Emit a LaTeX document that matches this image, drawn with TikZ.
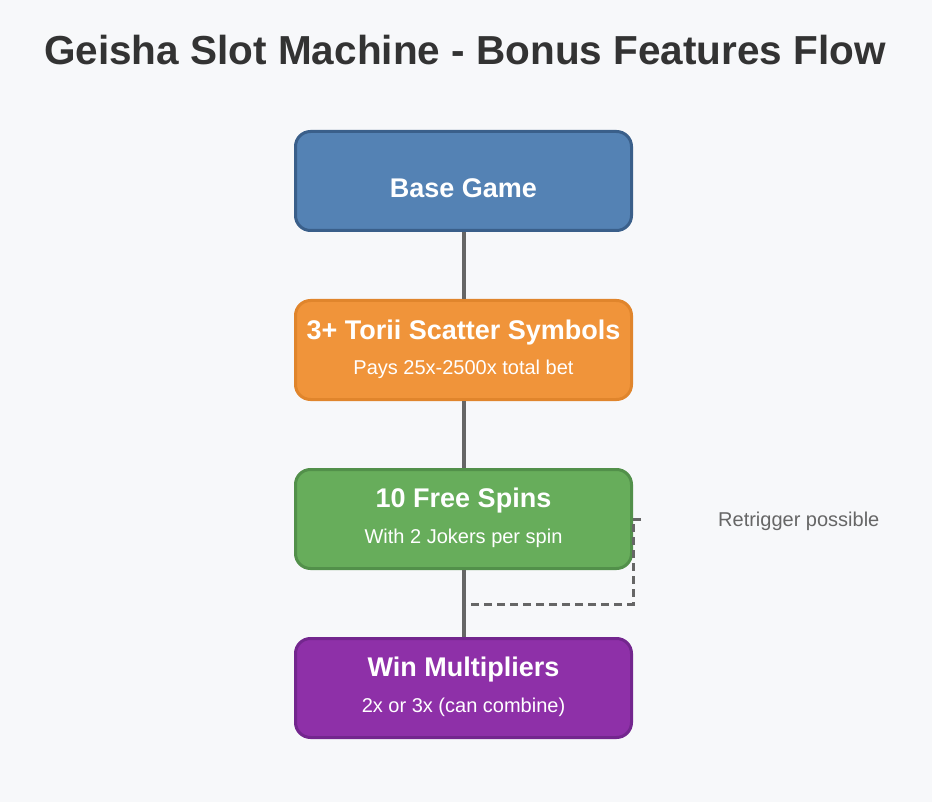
\documentclass[tikz,border=0pt]{standalone}
\usepackage{fontspec}
\setmainfont{Liberation Sans}
\usetikzlibrary{calc}
\definecolor{pagebg}{HTML}{F7F8FA}
\definecolor{titlegray}{HTML}{333333}
\definecolor{linegray}{HTML}{666666}
\definecolor{basefill}{HTML}{5482B4}
\definecolor{basedraw}{HTML}{3A5F8A}
\definecolor{toriifill}{HTML}{F0943A}
\definecolor{toriidraw}{HTML}{E0852C}
\definecolor{spinsfill}{HTML}{67AD5B}
\definecolor{spinsdraw}{HTML}{52904A}
\definecolor{winfill}{HTML}{8E30A8}
\definecolor{windraw}{HTML}{73268E}
\tikzset{box/.style={fill=#1fill,draw=#1draw,line width=3pt,rounded corners=15pt,
	minimum width=336pt,minimum height=99pt,inner sep=0pt},box/.default=base}
\tikzset{boxtitle/.style={text=white,inner sep=0pt,font=\bfseries\fontsize{27}{32}\selectfont}}
\tikzset{boxnote/.style={text=white,inner sep=0pt,font=\fontsize{20}{24}\selectfont}}
\tikzset{link/.style={draw=linegray,line width=4pt}}
\tikzset{retrigger/.style={draw=linegray,line width=3pt,dash pattern=on 8pt off 5pt}}

\begin{document}
\begin{tikzpicture}[x=1pt,y=-1pt]

	% Fundo e limites da figura
	\fill [pagebg] (0,0) rectangle (932,802);
	\useasboundingbox (0,0) rectangle (932,802);

	% O titulo
	\node [text=titlegray,font=\bfseries\fontsize{40.5}{46}\selectfont] (title)
		at (465,50) {Geisha Slot Machine - Bonus Features Flow};

	% As caixas
	\node [box=base]   (base)  at (463.5,181) {};
	\node [box=torii]  (torii) at (463.5,350) {};
	\node [box=spins]  (spins) at (463.5,519) {};
	\node [box=win]    (win)   at (463.5,688) {};

	% As ligacoes entre as caixas
	\draw [link] (base.south)  -- (torii.north);
	\draw [link] (torii.south) -- (spins.north);
	\draw [link] (spins.south) -- (win.north);

	% Os textos das caixas
	\node [boxtitle] (base title)  at (463.5,188) {Base Game};
	\node [boxtitle] (torii title) at (463.5,333) {3+ Torii Scatter Symbols};
	\node [boxnote]  (torii note)  at (463.5,369) {Pays 25x-2500x total bet};
	\node [boxtitle] (spins title) at (463.5,501) {10 Free Spins};
	\node [boxnote]  (spins note)  at (463.5,538) {With 2 Jokers per spin};
	\node [boxtitle] (win title)   at (463.5,670) {Win Multipliers};
	\node [boxnote]  (win note)    at (463.5,707) {2x or 3x (can combine)};

	% O laco tracejado de "Retrigger"
	\coordinate (loop start)  at ($(spins.east) + (8,0)$);
	\coordinate (loop corner) at ($(spins.east) + (0,85)$);
	\coordinate (loop end)    at (spins.south |- loop corner);
	\draw [retrigger] (loop start) -- (spins.east) -- (loop corner) -- (loop end);

	% O rotulo "Retrigger possible"
	\node [text=linegray,inner sep=0pt,anchor=west,font=\fontsize{20}{24}\selectfont]
		(retrigger label) at (718,521) {Retrigger possible};

\end{tikzpicture}
\end{document}
